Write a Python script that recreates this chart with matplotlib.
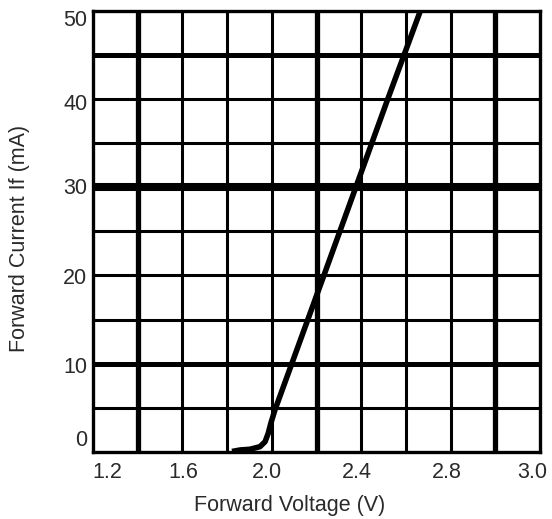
import matplotlib.pyplot as plt
import numpy as np

plt.rcParams['font.family'] = ['Liberation Sans', 'DejaVu Sans']

# forward voltage (V) vs forward current (mA)
voltage = [1.822, 1.858, 1.902, 1.947, 1.970, 1.984, 1.996, 2.014, 2.233, 2.376, 2.519, 2.665]
current = [0.06, 0.23, 0.31, 0.60, 1.17, 2.12, 3.28, 4.76, 20.0, 30.0, 40.0, 50.0]

# grid lines and which ones are drawn heavier
x_grid = np.round(np.arange(1.2, 3.21, 0.2), 2)
x_heavy = [1.4, 2.2, 3.0]
y_grid = np.arange(0, 51, 5)
y_heavy = {45: 3.6, 30: 5.8, 10: 3.6}

# tick labels sit a bit off the grid lines in the original
x_tick_pos = [1.265, 1.605, 1.98, 2.38, 2.785, 3.165]
x_tick_labels = ['1.2', '1.6', '2.0', '2.4', '2.8', '3.0']
y_tick_pos = [1.6, 9.85, 19.9, 30.1, 39.7, 49.2]
y_tick_labels = ['0', '10', '20', '30', '40', '50']


def main():
    fig = plt.figure(figsize=(5.52, 5.19), dpi=100)
    ax = fig.add_axes([93 / 552, 1 - 452 / 519, 447 / 552, 441.3 / 519])

    for x in x_grid[1:-1]:
        lw = 3.8 if x in x_heavy else 2.2
        ax.axvline(x, color='black', lw=lw, zorder=1)
    for y in y_grid[1:-1]:
        ax.axhline(y, color='black', lw=y_heavy.get(int(y), 2.2), zorder=1)

    ax.plot(voltage, current, color='black', lw=4.0, solid_capstyle='butt',
            solid_joinstyle='round', zorder=2)

    ax.set_xlim(1.2, 3.2)
    ax.set_ylim(0, 50)
    for s in ax.spines.values():
        s.set_linewidth(2.4)

    ax.set_xticks(x_tick_pos)
    ax.set_xticklabels(x_tick_labels)
    ax.set_yticks(y_tick_pos)
    ax.set_yticklabels(y_tick_labels)
    ax.tick_params(axis='both', length=0, labelsize=15.5, colors='#2a2a2a')
    ax.tick_params(axis='x', pad=7)
    ax.tick_params(axis='y', pad=4)

    ax.set_xlabel('Forward Voltage (V)', fontsize=15.5, color='#2a2a2a')
    ax.xaxis.set_label_coords(0.44, -0.097)
    ax.set_ylabel('Forward Current If (mA)', fontsize=15.5, color='#2a2a2a')
    ax.yaxis.set_label_coords(-0.141, 0.485)

    fig.savefig('out.png', dpi=100, facecolor='white')


if __name__ == '__main__':
    main()
